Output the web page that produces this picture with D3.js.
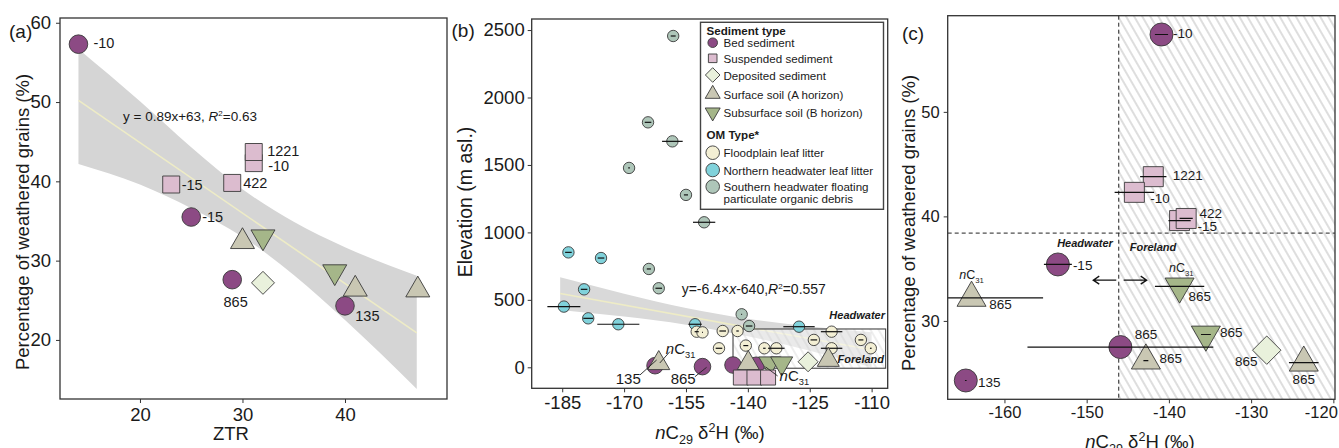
<!DOCTYPE html>
<html>
<head>
<meta charset="utf-8">
<script src="https://cdn.jsdelivr.net/npm/d3@7"></script>
<style>
  body { margin: 0; background: #fff; }
  text { font-family: Arial, "Liberation Sans", Helvetica, sans-serif; }
</style>
</head>
<body>
<svg id="chart" width="1339" height="448"></svg>
<script>
// ---------- panel (a): ZTR vs weathered grains ----------
const aBed  = [{x: 14.0, y: 57.3, lab: '-10'}, {x: 25.0, y: 35.5, lab: '-15'}, {x: 29.0, y: 27.6, lab: '865'}, {x: 40.0, y: 24.3, lab: '135'}];
const aSusp = [{x: 31.1, y: 42.3, lab: '-10'}, {x: 31.1, y: 43.7, lab: '1221'}, {x: 23.05, y: 39.6, lab: '-15'}, {x: 29.0, y: 39.8, lab: '422'}];
const aDep  = [{x: 32.0, y: 27.2}];
const aSurf = [{x: 30.0, y: 32.4}, {x: 41.0, y: 26.4}, {x: 47.1, y: 26.3}];
const aSub  = [{x: 32.0, y: 33.0}, {x: 39.0, y: 28.6}];
const aFitX = [14, 47];
const aFitY = [50.2, 20.9];
const aBandX  = [14, 20, 25, 30, 35, 40, 47];
const aBandLo = [42.2, 39.6, 36.6, 33.0, 28.2, 22.5, 13.8];
const aBandHi = [56.7, 50.1, 44.3, 39.0, 34.9, 31.7, 28.1];
const aXTicks = [20, 30, 40];
const aYTicks = [20, 30, 40, 50, 60];

// ---------- panel (b): nC29 d2H vs elevation ----------
const bSouth = [
  {x: -158.1, y: 2456, e: 0.6}, {x: -164.2, y: 1816, e: 0.8}, {x: -158.3, y: 1675, e: 2.5},
  {x: -168.8, y: 1478, e: 0.2}, {x: -155.0, y: 1278, e: 0.5}, {x: -150.6, y: 1075, e: 2.7},
  {x: -164.0, y: 729, e: 0.5}, {x: -161.6, y: 586, e: 0.8}, {x: -141.5, y: 393, e: 0.1},
  {x: -139.7, y: 306, e: 0.8}
];
const bNorth = [
  {x: -183.5, y: 852, e: 0.8}, {x: -175.6, y: 810, e: 0.8}, {x: -179.7, y: 578, e: 0.8},
  {x: -184.6, y: 450, e: 4.0}, {x: -178.7, y: 363, e: 1.2}, {x: -171.4, y: 319, e: 5.1},
  {x: -152.8, y: 319, e: 1.6}, {x: -127.6, y: 301, e: 3.8}
];
const bFlood = [
  {x: -152.4, y: 264, e: 0.5}, {x: -151.0, y: 259, e: 0.1}, {x: -146.1, y: 269, e: 0.8},
  {x: -142.5, y: 269, e: 0.3}, {x: -147.0, y: 141, e: 0.8}, {x: -140.5, y: 161, e: 0.6},
  {x: -136.0, y: 141, e: 0.3}, {x: -133.1, y: 141, e: 2.0}, {x: -124.0, y: 203, e: 0.8},
  {x: -119.7, y: 264, e: 2.6}, {x: -119.7, y: 141, e: 2.6}, {x: -112.6, y: 203, e: 0.6},
  {x: -110.2, y: 141, e: 0.2}
];
const bBed  = [{x: -162.5, y: 12}, {x: -151.0, y: 5}, {x: -143.6, y: 17}, {x: -138.0, y: 15}];
const bSurf = [{x: -161.6, y: 30}, {x: -139.9, y: 30}, {x: -120.5, y: 54}];
const bSub  = [{x: -134.7, y: 30}, {x: -131.8, y: 30}];
const bDep  = [{x: -125.4, y: 41}];
const bSusp = [{x: -141.7, y: -76}, {x: -138.4, y: -76}, {x: -135.1, y: -76}];
const bFitX = [-185.5, -110];
const bFitY = [547, 130];
const bBandX  = [-185.5, -170, -155, -140, -125, -110];
const bBandLo = [425, 376, 316, 230, 122, 0];
const bBandHi = [667, 546, 440, 360, 302, 260];
const bBoxX = [-143.6, -106.6];
const bBoxY = [-7, 284];
const bXTicks = [-185, -170, -155, -140, -125, -110];
const bYTicks = [0, 500, 1000, 1500, 2000, 2500];

// ---------- panel (c): nC29 d2H vs weathered grains ----------
const cBed  = [{x: -140.9, y: 57.4, e: 0.8, lab: '-10'}, {x: -153.5, y: 35.4, e: 1.7, lab: '-15'},
               {x: -145.9, y: 27.5, e: 11.3, lab: '865'}, {x: -164.7, y: 24.3, e: 0.1, lab: '135'}];
const cSusp = [{x: -141.9, y: 43.8, e: 1.6, lab: '1221'}, {x: -144.2, y: 42.3, e: 2.4, lab: '-10'},
               {x: -138.7, y: 39.6, e: 1.35, lab: '-15'}, {x: -137.9, y: 39.8, e: 0.8, lab: '422'}];
const cSurf = [{x: -164.0, y: 32.2, e: 8.7, lab: '865'}, {x: -142.8, y: 26.2, e: 0.3, lab: '865'},
               {x: -123.6, y: 26.0, e: 1.8, lab: '865'}];
const cSub  = [{x: -138.7, y: 33.3, e: 3.0, lab: '865'}, {x: -135.5, y: 28.7, e: 0.6, lab: '865'}];
const cDep  = [{x: -128.1, y: 27.2, lab: '865'}];
const cSplitX = -146.1;
const cSplitY = 38.4;
const cXTicks = [-160, -150, -140, -130, -120];
const cYTicks = [30, 40, 50];

// label offsets (pixels from point, text centre)
const aBedOff  = [[15, -1.3], [11, -0.3], [3.4, 22.3, 'middle'], [10.3, 10]];
const aSuspOff = [[14.4, 2.7], [13.4, -1], [10.4, 0.7], [11, 0.3]];
const cBedOff  = [[11.6, -1], [15, 0.7], [14.3, -12.4], [12.3, 1.7]];
const cSuspOff = [[19.4, -1], [16, 5.8], [18, 5.7], [13.3, -5]];
const cSurfOff = [[17.6, 7], [13.6, -1.8], [0, 17, 'middle']];
const cSubOff  = [[9, 9.6], [14, -1.9]];
const cDepOff  = [[-9.2, 11.5, 'end']];

const COL = {
  bed: '#8c4a84', susp: '#dcbccf', dep: '#e9f1dc', surf: '#c9c7b3', sub: '#a5b689',
  flood: '#f3efd4', north: '#80d2db', south: '#aec6b9'
};
const INK = '#1a1a1a';

const svg = d3.select('#chart');
const defs = svg.append('defs');

function hatch(id, color, width) {
  const p = defs.append('pattern').attr('id', id).attr('patternUnits', 'userSpaceOnUse')
    .attr('width', 7).attr('height', 7).attr('patternTransform', 'rotate(-30)');
  p.append('line').attr('x1', 1).attr('x2', 1).attr('y1', 0).attr('y2', 7)
    .attr('stroke', color).attr('stroke-width', width);
}
hatch('hatchC', '#b5b5b5', 0.9);
hatch('hatchB', '#cfcfcf', 0.7);

function symPath(type, s) {
  const p = d3.path();
  if (type === 'circle') p.arc(0, 0, s.r, 0, 2 * Math.PI);
  else if (type === 'square') p.rect(-s.q, -s.q, 2 * s.q, 2 * s.q);
  else if (type === 'diamond') {
    p.moveTo(0, -s.d); p.lineTo(s.d, 0); p.lineTo(0, s.d); p.lineTo(-s.d, 0); p.closePath();
  } else {
    const h = s.tw * Math.sqrt(3), k = type === 'up' ? 1 : -1;
    p.moveTo(0, -k * 2 * h / 3); p.lineTo(s.tw, k * h / 3); p.lineTo(-s.tw, k * h / 3); p.closePath();
  }
  return p.toString();
}

function drawPts(g, data, type, fill, s, x, y) {
  g.selectAll(null).data(data).join('path')
    .attr('d', symPath(type, s))
    .attr('transform', d => `translate(${x(d.x)},${y(d.y)})`)
    .attr('fill', fill).attr('stroke', '#3a3a3a').attr('stroke-width', 0.9);
}

function drawErr(g, data, x, y) {
  g.selectAll(null).data(data.filter(d => d.e)).join('line')
    .attr('x1', d => x(d.x - d.e)).attr('x2', d => x(d.x + d.e))
    .attr('y1', d => y(d.y)).attr('y2', d => y(d.y))
    .attr('stroke', '#111').attr('stroke-width', 1.2);
}

function drawLabs(g, data, offs, x, y, size) {
  data.forEach((d, i) => {
    const o = offs[i];
    if (!o) return;
    g.append('text')
      .attr('x', x(d.x) + o[0]).attr('y', y(d.y) + o[1])
      .attr('dominant-baseline', 'central').attr('text-anchor', o[2] || 'start')
      .attr('font-size', size).attr('fill', INK).text(d.lab);
  });
}

function nC31(g, px, py, size, anchor) {
  const t = g.append('text').attr('x', px).attr('y', py)
    .attr('font-size', size).attr('fill', INK).attr('text-anchor', anchor || 'start');
  t.append('tspan').attr('font-style', 'italic').text('n');
  t.append('tspan').text('C');
  t.append('tspan').attr('font-size', size * 0.62).attr('dy', size * 0.3).text('31');
  return t;
}

function xTitle(g, px, py, size) {
  const t = g.append('text').attr('x', px).attr('y', py).attr('text-anchor', 'middle')
    .attr('font-size', size).attr('fill', INK);
  t.append('tspan').attr('font-style', 'italic').text('n');
  t.append('tspan').text('C');
  t.append('tspan').attr('font-size', size * 0.68).attr('dy', 5).text('29');
  t.append('tspan').attr('dy', -5).text(' \u03B4');
  t.append('tspan').attr('font-size', size * 0.68).attr('dy', -7).text('2');
  t.append('tspan').attr('dy', 7).text('H (\u2030)');
}

function frame(g, x, y, box, xt, yt, o) {
  const xa = g.append('g').attr('transform', `translate(0,${box.b})`)
    .call(d3.axisBottom(x).tickValues(xt).tickSize(4).tickPadding(o.xPad).tickFormat(d => String(d)));
  const ya = g.append('g').attr('transform', `translate(${box.l},0)`)
    .call(d3.axisLeft(y).tickValues(yt).tickSize(4).tickPadding(o.yPad).tickFormat(d => String(d)));
  [xa, ya].forEach(a => {
    a.select('.domain').remove();
    a.selectAll('line').attr('stroke', '#333');
    a.selectAll('text').attr('font-size', o.tick).attr('fill', INK)
      .style('font-family', 'Arial, "Liberation Sans", Helvetica, sans-serif');
  });
  g.append('rect').attr('x', box.l).attr('y', box.t)
    .attr('width', box.r - box.l).attr('height', box.b - box.t)
    .attr('fill', 'none').attr('stroke', '#333').attr('stroke-width', 1.3);
  return xa;
}

function yTitle(g, px, py, size, txt) {
  g.append('text').attr('transform', `translate(${px},${py}) rotate(-90)`)
    .attr('text-anchor', 'middle').attr('font-size', size).attr('fill', INK).text(txt);
}

function band(g, bx, lo, hi, x, y, fill) {
  const idx = d3.range(bx.length);
  g.append('path').datum(idx)
    .attr('d', d3.area().x(i => x(bx[i])).y0(i => y(lo[i])).y1(i => y(hi[i])).curve(d3.curveMonotoneX))
    .attr('fill', fill);
}

function fitLine(g, fx, fy, x, y) {
  g.append('line').attr('x1', x(fx[0])).attr('y1', y(fy[0])).attr('x2', x(fx[1])).attr('y2', y(fy[1]))
    .attr('stroke', '#eeecc6').attr('stroke-width', 1.6);
}

// ================= panel (a) =================
(function panelA() {
  const box = {l: 60, r: 447, t: 18, b: 399};
  const x = d3.scaleLinear().domain([12.2, 49.95]).range([box.l, box.r]);
  const y = d3.scaleLinear().domain([12.55, 60.6]).range([box.b, box.t]);
  const g = svg.append('g');
  const s = {r: 9.3, q: 8.5, d: 11.5, tw: 12};

  band(g, aBandX, aBandLo, aBandHi, x, y, '#d5d5d5');
  fitLine(g, aFitX, aFitY, x, y);

  drawPts(g, aBed, 'circle', COL.bed, s, x, y);
  drawPts(g, aSusp, 'square', COL.susp, s, x, y);
  drawPts(g, aDep, 'diamond', COL.dep, s, x, y);
  drawPts(g, aSurf, 'up', COL.surf, s, x, y);
  drawPts(g, aSub, 'down', COL.sub, s, x, y);
  drawLabs(g, aBed, aBedOff, x, y, 14.5);
  drawLabs(g, aSusp, aSuspOff, x, y, 14.5);

  const eq = g.append('text').attr('x', 123).attr('y', 121).attr('font-size', 13.5).attr('fill', INK);
  eq.append('tspan').text('y = 0.89x+63, ');
  eq.append('tspan').attr('font-style', 'italic').text('R');
  eq.append('tspan').attr('font-size', 8).attr('dy', -5).text('2');
  eq.append('tspan').attr('dy', 5).text('=0.63');

  frame(g, x, y, box, aXTicks, aYTicks, {tick: 18.5, xPad: 5, yPad: 5});
  yTitle(g, 28.5, 222, 18.5, 'Percentage of weathered grains (%)');
  g.append('text').attr('x', 231).attr('y', 440).attr('text-anchor', 'middle')
    .attr('font-size', 18.5).attr('fill', INK).text('ZTR');
  g.append('text').attr('x', 9).attr('y', 38).attr('font-size', 19).attr('fill', INK).text('(a)');
})();

// ================= panel (b) =================
(function panelB() {
  const box = {l: 531.7, r: 887.7, t: 19, b: 388.3};
  const x = d3.scaleLinear().domain([-192.4, -106.1]).range([box.l, box.r]);
  const y = d3.scaleLinear().domain([-155.7, 2582]).range([box.b, box.t]);
  const g = svg.append('g');
  const s = {r: 8.3, q: 7.5, d: 10, tw: 11};
  const om = {r: 5.7};

  band(g, bBandX, bBandLo, bBandHi, x, y, '#d9d9d9');
  fitLine(g, bFitX, bFitY, x, y);

  // Headwater / Foreland box
  const bx0 = x(bBoxX[0]), bx1 = x(bBoxX[1]), by0 = y(bBoxY[1]), by1 = y(bBoxY[0]);
  g.append('rect').attr('x', bx0).attr('y', by0).attr('width', bx1 - bx0).attr('height', by1 - by0)
    .attr('fill', '#fff').attr('fill-opacity', 0.45);
  g.append('rect').attr('x', bx0).attr('y', by0).attr('width', bx1 - bx0).attr('height', by1 - by0)
    .attr('fill', 'url(#hatchB)').attr('stroke', '#444').attr('stroke-width', 1.1);

  drawPts(g, bSouth, 'circle', COL.south, om, x, y);
  drawPts(g, bNorth, 'circle', COL.north, om, x, y);
  drawPts(g, bFlood, 'circle', COL.flood, om, x, y);
  drawErr(g, bSouth, x, y);
  drawErr(g, bNorth, x, y);
  drawErr(g, bFlood, x, y);

  drawPts(g, bBed, 'circle', COL.bed, s, x, y);
  drawPts(g, bSurf, 'up', COL.surf, s, x, y);
  drawPts(g, bSub, 'down', COL.sub, s, x, y);
  drawPts(g, bDep, 'diamond', COL.dep, s, x, y);
  drawPts(g, bSusp, 'square', COL.susp, s, x, y);

  g.append('text').attr('x', 885).attr('y', 319).attr('text-anchor', 'end')
    .attr('font-size', 11).attr('font-weight', 'bold').attr('font-style', 'italic').attr('fill', INK).text('Headwater');
  g.append('text').attr('x', 884).attr('y', 363.3).attr('text-anchor', 'end')
    .attr('font-size', 11).attr('font-weight', 'bold').attr('font-style', 'italic').attr('fill', INK).text('Foreland');

  // leader-line labels
  const lead = (p, a, b) => g.append('line')
    .attr('x1', x(p.x) + a[0]).attr('y1', y(p.y) + a[1]).attr('x2', x(p.x) + b[0]).attr('y2', y(p.y) + b[1])
    .attr('stroke', '#222').attr('stroke-width', 0.9);
  const lab = (p, o, txt) => g.append('text').attr('x', x(p.x) + o[0]).attr('y', y(p.y) + o[1])
    .attr('text-anchor', 'middle').attr('dominant-baseline', 'central')
    .attr('font-size', 15).attr('fill', INK).text(txt);
  lead(bBed[0], [-15.1, 9.3], [1.6, -5.7]);
  lab(bBed[0], [-26.8, 13.3], '135');
  lead(bSurf[0], [1.1, -0.3], [11.1, -11.6]);
  nC31(g, x(bSurf[0].x) + 7.1, y(bSurf[0].y) - 9.3, 15);
  lead(bBed[1], [-7.6, 10.1], [4.1, 0.7]);
  lab(bBed[1], [-19.3, 11.7], '865');
  lead(bSub[0], [7.9, 12.7], [-4.1, 3.7]);
  nC31(g, x(bSub[0].x) + 9.9, y(bSub[0].y) + 17.7, 15);

  const eq = g.append('text').attr('x', 681.7).attr('y', 293.5).attr('font-size', 14).attr('fill', INK);
  eq.append('tspan').text('y=-6.4\u00D7');
  eq.append('tspan').attr('font-style', 'italic').text('x');
  eq.append('tspan').text('-640,');
  eq.append('tspan').attr('font-style', 'italic').text('R');
  eq.append('tspan').attr('font-size', 8).attr('dy', -5).text('2');
  eq.append('tspan').attr('dy', 5).text('=0.557');

  // legend
  const lg = g.append('g');
  lg.append('rect').attr('x', 700.5).attr('y', 22.3).attr('width', 183).attr('height', 187)
    .attr('fill', '#fff').attr('stroke', '#444').attr('stroke-width', 1.4);
  const ls = {r: 4.8, q: 4.3, d: 7.3, tw: 7.5};
  const lsOm = {r: 6.8};
  const items = [
    {t: 'Sediment type', head: true, y: 30},
    {t: 'Bed sediment', type: 'circle', fill: COL.bed, s: ls, y: 42.7},
    {t: 'Suspended sediment', type: 'square', fill: COL.susp, s: ls, y: 58.3},
    {t: 'Deposited sediment', type: 'diamond', fill: COL.dep, s: ls, y: 75},
    {t: 'Surface soil (A horizon)', type: 'up', fill: COL.surf, s: ls, y: 94},
    {t: 'Subsurface soil (B horizon)', type: 'down', fill: COL.sub, s: ls, y: 112.3},
    {t: 'OM Type*', head: true, y: 134},
    {t: 'Floodplain leaf litter', type: 'circle', fill: COL.flood, s: lsOm, y: 152.7},
    {t: 'Northern headwater leaf litter', type: 'circle', fill: COL.north, s: lsOm, y: 170},
    {t: 'Southern headwater floating', type: 'circle', fill: COL.south, s: lsOm, y: 186.6},
    {t: 'particulate organic debris', y: 198.6}
  ];
  items.forEach(it => {
    if (it.type) {
      lg.append('path').attr('d', symPath(it.type, it.s))
        .attr('transform', `translate(712.7,${it.y})`)
        .attr('fill', it.fill).attr('stroke', '#3a3a3a').attr('stroke-width', 0.9);
    }
    lg.append('text').attr('x', it.head ? 706.5 : 723.5).attr('y', it.y)
      .attr('dominant-baseline', 'central').attr('font-size', 11.6)
      .attr('font-weight', it.head ? 'bold' : 'normal').attr('fill', INK).text(it.t);
  });

  frame(g, x, y, box, bXTicks, bYTicks, {tick: 18.5, xPad: 4, yPad: 3});
  yTitle(g, 471.5, 202, 19.5, 'Elevation (m asl.)');
  xTitle(g, 710, 439, 18.5);
  g.append('text').attr('x', 451.5).attr('y', 37).attr('font-size', 19).attr('fill', INK).text('(b)');
})();

// ================= panel (c) =================
(function panelC() {
  const box = {l: 947.7, r: 1335, t: 15.7, b: 399.3};
  const x = d3.scaleLinear().domain([-166.9, -119.8]).range([box.l, box.r]);
  const y = d3.scaleLinear().domain([22.5, 59.2]).range([box.b, box.t]);
  const g = svg.append('g');
  const s = {r: 11.5, q: 10, d: 14.2, tw: 14.5};

  defs.append('clipPath').attr('id', 'clipC').append('rect')
    .attr('x', box.l).attr('y', box.t).attr('width', box.r - box.l).attr('height', box.b - box.t);

  g.append('rect').attr('x', x(cSplitX)).attr('y', box.t)
    .attr('width', box.r - x(cSplitX)).attr('height', box.b - box.t).attr('fill', 'url(#hatchC)');
  g.append('line').attr('x1', x(cSplitX)).attr('x2', x(cSplitX)).attr('y1', box.t).attr('y2', box.b)
    .attr('stroke', '#222').attr('stroke-width', 1).attr('stroke-dasharray', '4,3');
  g.append('line').attr('x1', box.l).attr('x2', box.r).attr('y1', y(cSplitY)).attr('y2', y(cSplitY))
    .attr('stroke', '#222').attr('stroke-width', 1).attr('stroke-dasharray', '4,3');

  const pg = g.append('g').attr('clip-path', 'url(#clipC)');
  drawPts(pg, cBed, 'circle', COL.bed, s, x, y);
  drawPts(pg, cSusp, 'square', COL.susp, s, x, y);
  drawPts(pg, cSurf, 'up', COL.surf, s, x, y);
  drawPts(pg, cSub, 'down', COL.sub, s, x, y);
  drawPts(pg, cDep, 'diamond', COL.dep, s, x, y);
  [cBed, cSusp, cSurf, cSub].forEach(d => drawErr(pg, d, x, y));

  drawLabs(g, cBed, cBedOff, x, y, 13.5);
  drawLabs(g, cSusp, cSuspOff, x, y, 13.5);
  drawLabs(g, cSurf, cSurfOff, x, y, 13.5);
  drawLabs(g, cSub, cSubOff, x, y, 13.5);
  drawLabs(g, cDep, cDepOff, x, y, 13.5);
  nC31(g, x(cSurf[0].x), y(cSurf[0].y) - 19, 12.5, 'middle');
  nC31(g, x(cSub[0].x) + 1.7, y(cSub[0].y) - 14, 12.5, 'middle');

  g.append('text').attr('x', 1085).attr('y', 247).attr('text-anchor', 'middle')
    .attr('font-size', 11).attr('font-weight', 'bold').attr('font-style', 'italic').attr('fill', INK).text('Headwater');
  g.append('text').attr('x', 1153).attr('y', 250.7).attr('text-anchor', 'middle')
    .attr('font-size', 11).attr('font-weight', 'bold').attr('font-style', 'italic').attr('fill', INK).text('Foreland');

  // direction arrows either side of the split
  const ay = y(33.9);
  const arrow = (x0, x1) => {
    const dir = Math.sign(x1 - x0);
    g.append('path')
      .attr('d', `M${x0},${ay}H${x1}M${x1 - dir * 6},${ay - 4}L${x1},${ay}L${x1 - dir * 6},${ay + 4}`)
      .attr('fill', 'none').attr('stroke', '#111').attr('stroke-width', 1.3);
  };
  arrow(x(-146.4), x(-149.2));
  arrow(x(-145.5), x(-142.7));

  const xa = frame(g, x, y, box, cXTicks, cYTicks, {tick: 16.5, xPad: 3, yPad: 4});
  // last tick label pulled inside the page edge, as in the original
  xa.selectAll('.tick').filter(d => d === -120).select('text')
    .attr('text-anchor', 'end').attr('x', 4);
  yTitle(g, 915, 223, 18.5, 'Percentage of weathered grains (%)');
  xTitle(g, 1140, 448, 18.5);
  g.append('text').attr('x', 902).attr('y', 40).attr('font-size', 19).attr('fill', INK).text('(c)');
})();
</script>
</body>
</html>
